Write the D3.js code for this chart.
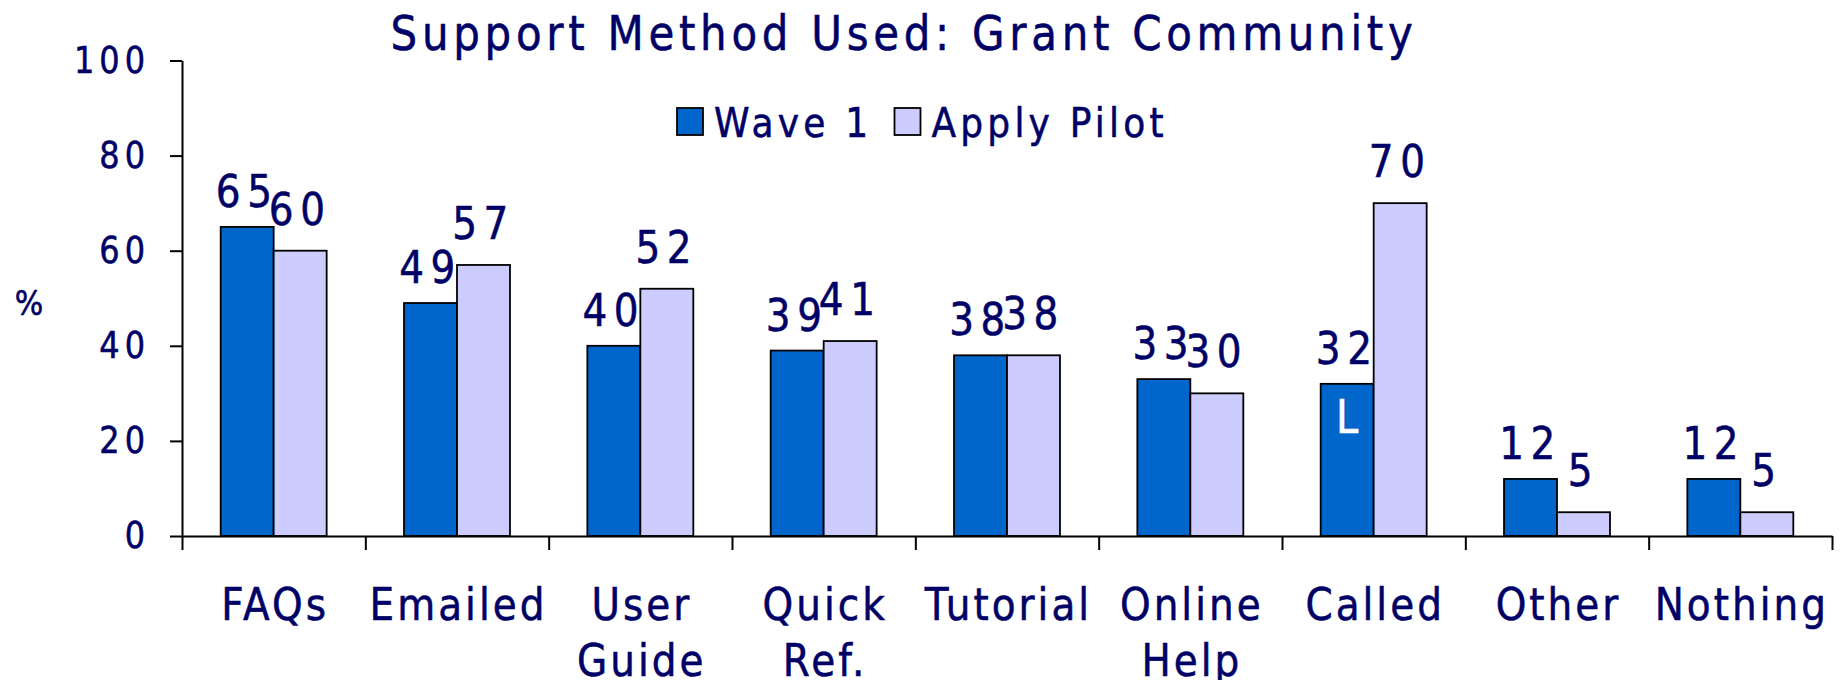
<!DOCTYPE html>
<html>
<head>
<meta charset="utf-8">
<script src="https://cdn.jsdelivr.net/npm/d3@7"></script>
<style>
body { margin: 0; background: #fff; }
text { font-family: "DejaVu Sans", Verdana, sans-serif; fill: #000066; stroke: #000066; stroke-width: 0.5px; }
text.note { fill: #fff; stroke: #fff; }
</style>
</head>
<body>
<svg id="chart" width="1843" height="680"></svg>
<script>
// data
const categories = ["FAQs", "Emailed", "User Guide", "Quick Ref.", "Tutorial", "Online Help", "Called", "Other", "Nothing"];
const series = ["Wave 1", "Apply Pilot"];
const wave1 = [65, 49, 40, 39, 38, 33, 32, 12, 12];
const applyPilot = [60, 57, 52, 41, 38, 30, 70, 5, 5];
const wave1Notes = ["", "", "", "", "", "", "L", "", ""];
const yTicks = [0, 20, 40, 60, 80, 100];

const colors = {"Wave 1": "#0066cc", "Apply Pilot": "#ccccff"};
const labelGap = {"Wave 1": 20, "Apply Pilot": 26};
const stretch = "scale(1,1.15)";

const svg = d3.select("#chart");

const x0 = d3.scaleBand()
    .domain(categories)
    .range([182, 1832]);

const x1 = d3.scaleBand()
    .domain(series)
    .range([0, x0.bandwidth()])
    .paddingOuter(0.73);

const y = d3.scaleLinear()
    .domain([0, 100])
    .range([536, 60.5]);

const xEdges = d3.scaleLinear()
    .domain([0, categories.length])
    .range(x0.range());

const rows = categories.map((c, i) => ({
    cat: c,
    values: [
        {key: "Wave 1", value: wave1[i], note: wave1Notes[i]},
        {key: "Apply Pilot", value: applyPilot[i], note: ""}
    ]
}));

// title
svg.append("text")
    .attr("transform", "translate(904,50) " + stretch)
    .attr("text-anchor", "middle")
    .style("font-size", "42px")
    .style("letter-spacing", "4.7px")
    .text("Support Method Used: Grant Community");

// y axis
const yAxis = svg.append("g")
    .attr("transform", "translate(182,0)")
    .call(d3.axisLeft(y).tickValues(yTicks).tickSize(12).tickSizeOuter(0).tickPadding(20));
yAxis.selectAll("text")
    .attr("transform", stretch)
    .attr("fill", null)
    .style("font-size", "32px")
    .style("letter-spacing", "5px");
yAxis.selectAll("path, line").attr("stroke", "#000").attr("stroke-width", 2);

svg.append("text")
    .attr("transform", "translate(29,315) " + stretch)
    .attr("text-anchor", "middle")
    .style("font-size", "30px")
    .text("%");

// bars
const group = svg.append("g")
    .selectAll("g")
    .data(rows)
    .enter().append("g")
    .attr("transform", d => "translate(" + x0(d.cat) + ",0)");

group.selectAll("rect")
    .data(d => d.values)
    .enter().append("rect")
    .attr("x", d => x1(d.key))
    .attr("y", d => y(d.value))
    .attr("width", x1.bandwidth())
    .attr("height", d => y(0) - y(d.value))
    .attr("fill", d => colors[d.key])
    .attr("stroke", "#000")
    .attr("stroke-width", 1.8);

group.selectAll("text.value")
    .data(d => d.values)
    .enter().append("text")
    .attr("class", "value")
    .attr("transform", d => "translate(" + (x1(d.key) + x1.bandwidth() / 2) + "," + (y(d.value) - labelGap[d.key]) + ") " + stretch)
    .attr("text-anchor", "middle")
    .style("font-size", "39px")
    .style("letter-spacing", "6.5px")
    .text(d => d.value);

group.selectAll("text.note")
    .data(d => d.values.filter(v => v.note))
    .enter().append("text")
    .attr("class", "note")
    .attr("transform", d => "translate(" + (x1(d.key) + x1.bandwidth() / 2) + "," + (y(d.value) + 49) + ") " + stretch)
    .attr("text-anchor", "middle")
    .style("font-size", "40px")
    .text(d => d.note);

// x axis: ticks on the category edges
const xAxis = svg.append("g")
    .attr("transform", "translate(0,536)")
    .call(d3.axisBottom(xEdges).ticks(categories.length).tickSize(14).tickSizeOuter(0).tickFormat(""));
xAxis.selectAll("path, line").attr("stroke", "#000").attr("stroke-width", 2);

const catLabel = svg.append("g")
    .selectAll("text")
    .data(categories)
    .enter().append("text")
    .attr("transform", d => "translate(" + (x0(d) + x0.bandwidth() / 2 + 1.5) + ",620) " + stretch)
    .attr("text-anchor", "middle")
    .style("font-size", "39px")
    .style("letter-spacing", "3px");

catLabel.selectAll("tspan")
    .data(d => d.split(" "))
    .enter().append("tspan")
    .attr("x", 0)
    .attr("dy", (d, i) => i ? 49 : 0)
    .text(d => d);

// legend
const legend = svg.append("g")
    .selectAll("g")
    .data(series)
    .enter().append("g")
    .attr("transform", (d, i) => "translate(" + [677, 894.5][i] + ",108)");

legend.append("rect")
    .attr("width", 26)
    .attr("height", 27)
    .attr("fill", d => colors[d])
    .attr("stroke", "#000")
    .attr("stroke-width", 1.8);

legend.append("text")
    .attr("transform", "translate(37,29) " + stretch)
    .style("font-size", "36px")
    .style("letter-spacing", "4.2px")
    .text(d => d);
</script>
</body>
</html>
